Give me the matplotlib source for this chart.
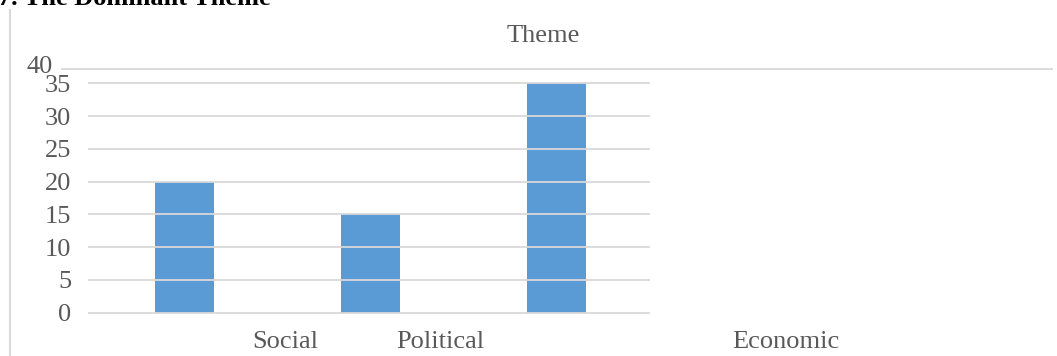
import matplotlib
matplotlib.use("Agg")
import matplotlib.pyplot as plt
from matplotlib.lines import Line2D

# data
categories = ["Social", "Political", "Economic"]
values = [20, 15, 35]
y_ticks = [0, 5, 10, 15, 20, 25, 30, 35]
top_tick = 40
label_spots = [0.226, 0.382, 0.731]

W, H = 1057, 356
BAR_COLOR = "#5B9BD5"
GRID_COLOR = "#D9D9D9"
TEXT_COLOR = "#595959"
FS = 19

plt.rcParams["font.family"] = ["Liberation Serif", "DejaVu Serif"]

fig = plt.figure(figsize=(W / 100, H / 100), dpi=100)


def px_box(left, top, right, bottom):
    return [left / W, 1 - bottom / H, (right - left) / W, (bottom - top) / H]


# main plot area (0..35)
ax = fig.add_axes(px_box(88, 81.3, 650, 314.7))
ax.bar(range(len(values)), values, width=0.317, color=BAR_COLOR, zorder=1)
ax.set_xlim(-0.519, 2.503)
ax.set_ylim(-0.3, 35.3)
ax.set_yticks(y_ticks)
ax.set_xticks([])
ax.yaxis.grid(True, color=GRID_COLOR, linewidth=1.3)
ax.set_axisbelow(False)
ax.tick_params(axis="y", length=0, pad=12, labelsize=FS, labelcolor=TEXT_COLOR)
for s in ax.spines.values():
    s.set_visible(False)
ax.patch.set_alpha(0)

# wide axes carrying the 40 line and the category labels
ax2 = fig.add_axes(px_box(62, 69.3, 1052, 312.7))
ax2.set_xlim(0, 1)
ax2.set_ylim(0, top_tick)
ax2.axhline(top_tick, color=GRID_COLOR, linewidth=1.3, clip_on=False)
ax2.set_yticks([])
ax2.set_xticks(label_spots)
ax2.set_xticklabels(categories)
ax2.tick_params(axis="x", length=0, pad=13, labelsize=FS, labelcolor=TEXT_COLOR)
ax2.annotate(str(top_tick), xy=(0, top_tick), xycoords=("axes fraction", "data"),
             xytext=(-9, 2), textcoords="offset pixels", ha="right", va="center",
             fontsize=FS, color=TEXT_COLOR, annotation_clip=False)
for s in ax2.spines.values():
    s.set_visible(False)
ax2.patch.set_alpha(0)

fig.text(543 / W, 1 - 42 / H, "Theme", ha="center", va="baseline",
         fontsize=FS, color=TEXT_COLOR)
fig.text(-2 / W, 1 - 5 / H, "7. The Dominant Theme", ha="left", va="baseline",
         fontsize=19, fontweight="bold", color="black")

fig.add_artist(Line2D([10 / W, 10 / W], [0, 1 - 10 / H], color=GRID_COLOR,
                      linewidth=1.5, transform=fig.transFigure))

fig.savefig("out.png", dpi=100)
